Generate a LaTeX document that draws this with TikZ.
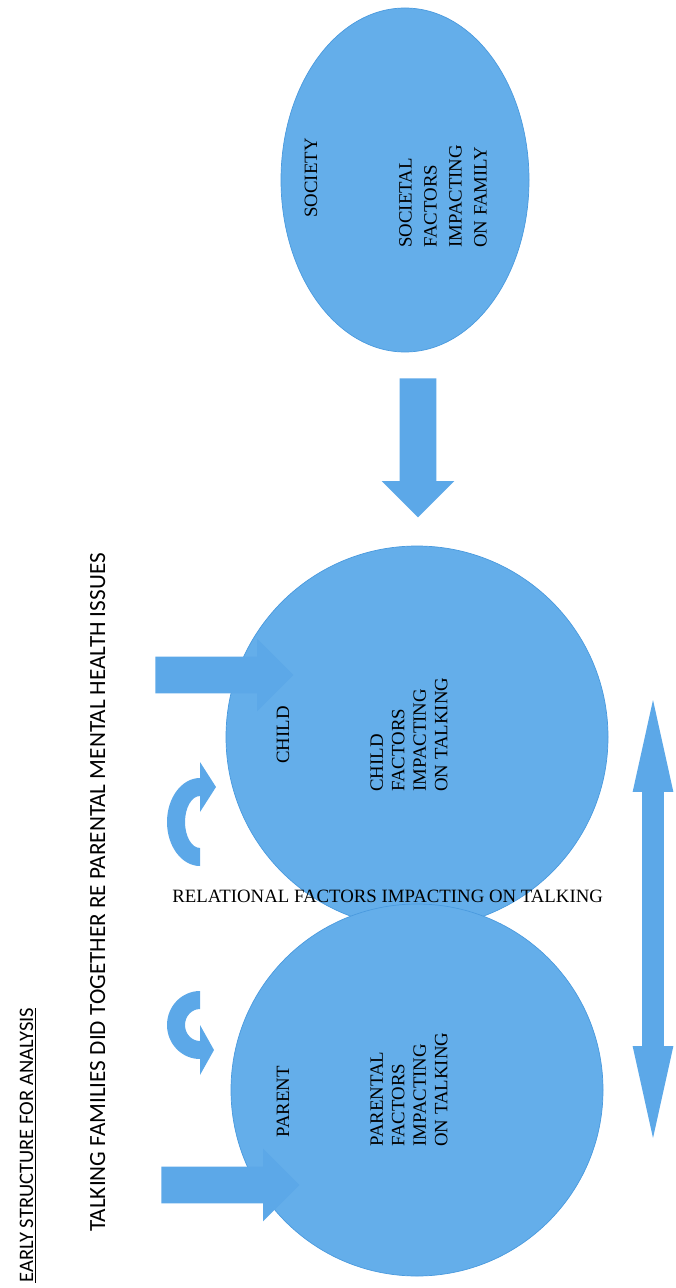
\documentclass[tikz,border=0pt]{standalone}
\usepackage{fontspec}
\setmainfont{Liberation Serif}
\newfontfamily\headfont{Carlito}
\usetikzlibrary{shapes.geometric,shapes.arrows}
\definecolor{bubble}{RGB}{100,174,234}
\definecolor{bubbleline}{RGB}{74,154,222}
\definecolor{blockblue}{RGB}{92,168,232}

\begin{document}
\begin{tikzpicture}[x=0.2mm, y=-0.2mm,
    bubble/.style={fill=bubble, draw=bubbleline, line width=0.4pt},
    blockarrow/.style={single arrow, fill=blockblue, inner xsep=0pt, inner ysep=3.6mm,
      single arrow head extend=3.6mm, single arrow tip angle=90, anchor=tail},
    lbl/.style={rotate=90, inner sep=0pt, font=\fontsize{10.7}{12.2}\selectfont}]
  \useasboundingbox (0,0) rectangle (675,1288);

  % the three circles
  \node[bubble, ellipse, minimum width=49.6mm, minimum height=68.8mm] (society) at (405,180) {};
  \node[bubble, circle, minimum size=76.4mm] (child) at (417,737) {};
  \node[bubble, circle, minimum size=74.4mm] (parent) at (417,1090) {};

  % block arrows
  \foreach \name/\x/\y in {tochild/155/675, toparent/161/1185}
    \node[blockarrow, minimum height=27.6mm] (\name) at (\x,\y) {};
  \node[blockarrow, minimum height=27.8mm, rotate=270] (down) at (418,378) {};
  \node[double arrow, fill=blockblue, inner xsep=0pt, inner ysep=2.1mm, double arrow head extend=1.9mm,
    double arrow tip angle=25, minimum height=87.6mm, rotate=90] (talk) at (653,919) {};

  % curved arrows
  \fill[blockblue] (200,866) arc[start angle=90, end angle=270, x radius=33, y radius=44]
    -- (200,762) -- (216,787) -- (200,812) -- (200,796)
    arc[start angle=270, end angle=90, x radius=15, y radius=26] -- cycle;
  \fill[blockblue] (200,991) arc[start angle=270, end angle=90, x radius=33, y radius=34]
    -- (200,1075) -- (214,1050) -- (200,1025) -- (200,1041)
    arc[start angle=90, end angle=270, x radius=15, y radius=16] -- cycle;

  % titles
  \node[rotate=90, anchor=base west, inner sep=0pt, font=\headfont\fontsize{11.7}{14}\selectfont] (title) at (33,1283) {\underline{EARLY STRUCTURE FOR ANALYSIS}};
  \node[rotate=90, anchor=base west, inner sep=0pt, font=\headfont\fontsize{13.2}{15}\selectfont] (subtitle) at (105,1232) {TALKING FAMILIES DID TOGETHER RE PARENTAL MENTAL HEALTH ISSUES};

  % circle texts
  \node[lbl] (societyname) at (311,178) {SOCIETY};
  \node[lbl, align=left, anchor=west, font=\fontsize{10.7}{14.2}\selectfont] (societytext) at (443,248) {SOCIETAL\\FACTORS\\IMPACTING\\ON FAMILY};
  \node[lbl] (childname) at (283,735) {CHILD};
  \node[lbl, align=left, anchor=west] (childtext) at (409,792) {CHILD\\FACTORS\\IMPACTING\\ON TALKING};
  \node[lbl] (parentname) at (283,1102) {PARENT};
  \node[lbl, align=left, anchor=west] (parenttext) at (409,1147) {PARENTAL\\FACTORS\\IMPACTING\\ON TALKING};

  \node[anchor=base west, inner sep=0pt, font=\fontsize{10.7}{12.2}\selectfont] (relational) at (172,902) {RELATIONAL FACTORS IMPACTING ON TALKING};
\end{tikzpicture}
\end{document}
